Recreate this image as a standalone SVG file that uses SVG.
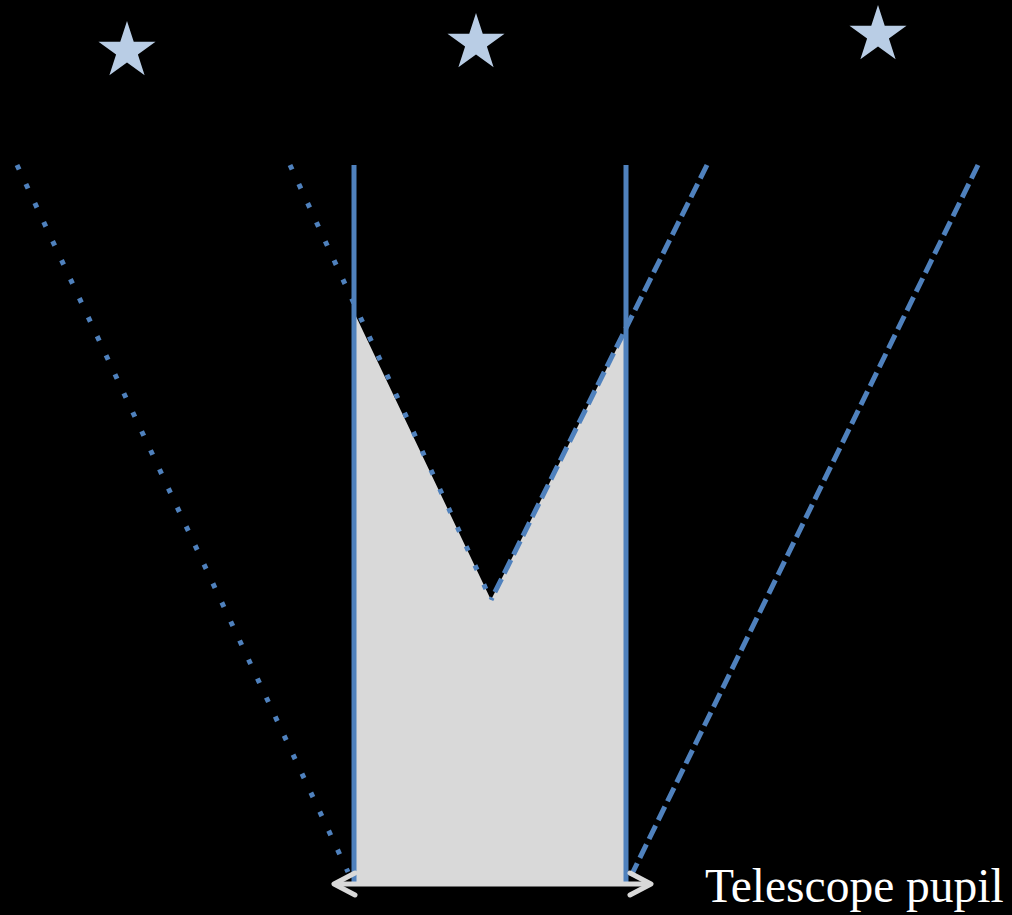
<svg xmlns="http://www.w3.org/2000/svg" width="1012" height="915" viewBox="0 0 1012 915">
  <style>
    .star { fill: #b9cde5; }
    .ray { fill: none; stroke: #4f81bd; stroke-width: 5; }
    .dot { stroke-dasharray: 5 16; }
    .dash { stroke-dasharray: 15 6; }
    .wall { fill: none; stroke: #4f81bd; stroke-width: 5; }
    .pupil { fill: none; stroke: #d9d9d9; stroke-width: 5; stroke-linecap: round; stroke-linejoin: round; }
    .label { font-family: "Liberation Serif", "Times New Roman", serif; font-size: 47.5px; fill: #ffffff; }
  </style>
  <defs>
    <path id="starShape" d="M0,-30 L6.74,-9.27 L28.53,-9.27 L10.9,3.54 L17.63,24.27 L0,11.46 L-17.63,24.27 L-10.9,3.54 L-28.53,-9.27 L-6.74,-9.27 Z"/>
  </defs>
  <rect x="0" y="0" width="1012" height="915" fill="#000000"/>

  <g id="star-left"><use href="#starShape" class="star" transform="translate(127,51)"/></g>
  <g id="star-center"><use href="#starShape" class="star" transform="translate(476,43)"/></g>
  <g id="star-right"><use href="#starShape" class="star" transform="translate(878,35)"/></g>

  <g id="overlap-region">
    <polygon points="353,310 491,600 626,330 626,884 353,884" fill="#d9d9d9"/>
  </g>

  <g id="connectors">
    <line class="ray dot" x1="17" y1="165" x2="348" y2="872"/>
    <line class="ray dot" x1="290" y1="165" x2="491" y2="600"/>
    <line class="ray dash" x1="707" y1="165" x2="491" y2="600"/>
    <line class="ray dash" x1="978" y1="165" x2="631" y2="876"/>
    <line class="wall" x1="354" y1="165" x2="354" y2="882"/>
    <line class="wall" x1="626" y1="165" x2="626" y2="882"/>
  </g>

  <g id="pupil-arrow">
    <line class="pupil" x1="337" y1="884" x2="648" y2="884"/>
    <polyline class="pupil" points="355,873 334,884 355,895"/>
    <polyline class="pupil" points="630,873 651,884 630,895"/>
  </g>

  <g id="label">
    <text class="label" x="705" y="902">Telescope pupil</text>
  </g>
</svg>
